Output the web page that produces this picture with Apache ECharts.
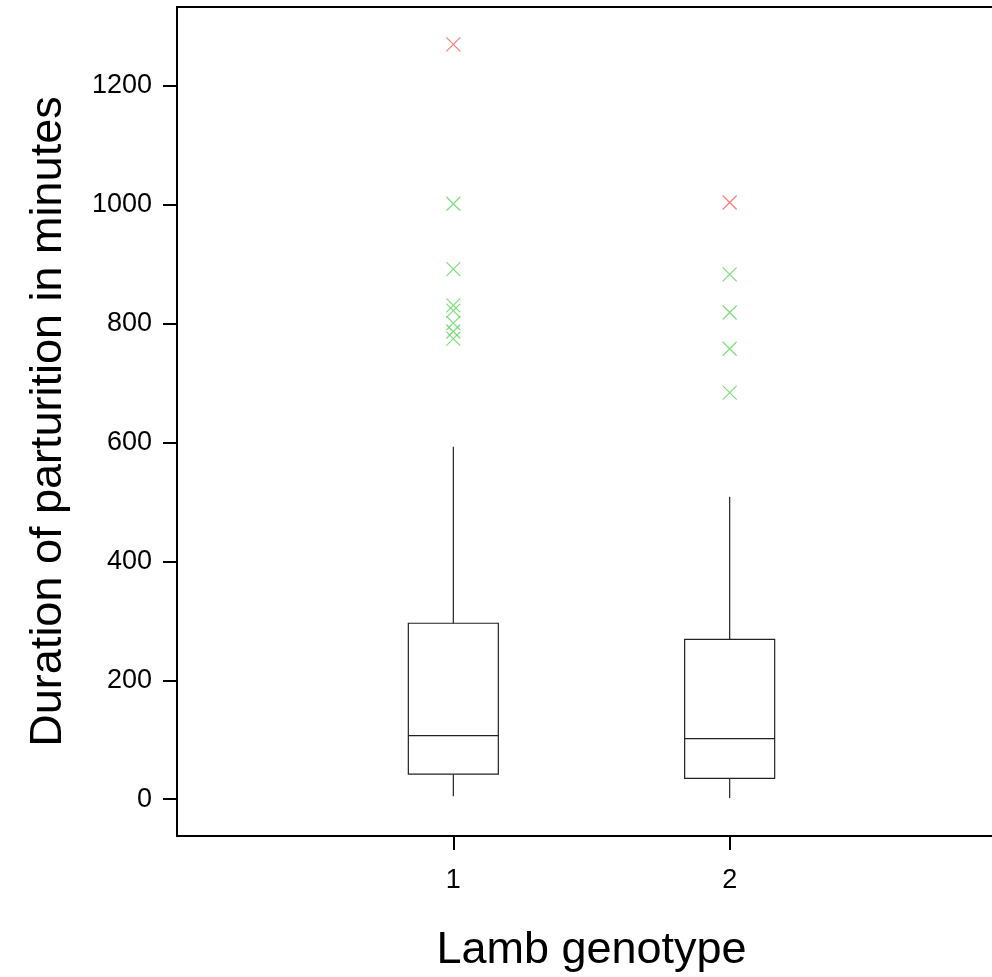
<!DOCTYPE html>
<html>
<head>
<meta charset="utf-8">
<script src="https://cdn.jsdelivr.net/npm/echarts@6/dist/echarts.min.js"></script>
<style>
html,body{margin:0;padding:0;background:#fff;}
#chart{width:992px;height:977px;}
</style>
</head>
<body>
<div id="chart"></div>
<script>
// Categories (x positions 0..3, only 1 and 2 are labelled)
var categories = ['0', '1', '2', '3'];
var shownLabels = ['1', '2'];
// Box statistics: [categoryIndex, min, Q1, median, Q3, max]
var boxStats = [
  [1, 5, 42, 107, 296, 593],
  [2, 2, 35, 102, 269, 509]
];
// Extreme outliers (red)
var extremeOutliers = [[1, 1270], [2, 1004]];
// Mild outliers (green)
var mildOutliers = [
  [1, 1002], [1, 892], [1, 831], [1, 822], [1, 801], [1, 787], [1, 775],
  [2, 883], [2, 819], [2, 758], [2, 684]
];
var yTicks = [0, 200, 400, 600, 800, 1000, 1200];

var FONT = "'Liberation Sans', Arial, sans-serif";
var crossPath = 'path://M0,0L10,10M10,0L0,10';

var chart = echarts.init(document.getElementById('chart'), null, {renderer: 'canvas'});
chart.setOption({
  animation: false,
  backgroundColor: '#fff',
  grid: {
    left: 177, top: 7, width: 829, height: 829,
    outerBoundsMode: 'none',
    containLabel: false,
    show: true, borderColor: '#000', borderWidth: 2, backgroundColor: 'transparent'
  },
  xAxis: {
    type: 'category',
    data: categories,
    boundaryGap: false,
    name: 'Lamb genotype',
    nameLocation: 'middle',
    nameGap: 92,
    nameTextStyle: {fontFamily: FONT, fontSize: 45, color: '#000'},
    axisLine: {show: true, onZero: false, lineStyle: {color: '#000', width: 2}},
    axisTick: {
      show: true, length: 14, inside: false,
      interval: function (i) { return shownLabels.indexOf(categories[i]) >= 0; },
      lineStyle: {color: '#000', width: 2}
    },
    axisLabel: {
      show: true, margin: 31, fontFamily: FONT, fontSize: 27, color: '#000',
      interval: 0,
      formatter: function (v) { return shownLabels.indexOf(v) >= 0 ? v : ''; }
    },
    splitLine: {show: false}
  },
  yAxis: {
    type: 'value',
    min: -62,
    max: 1333,
    name: 'Duration of parturition in minutes',
    nameLocation: 'middle',
    nameGap: 106,
    nameRotate: 90,
    nameTextStyle: {fontFamily: FONT, fontSize: 45, color: '#000'},
    axisLine: {show: true, onZero: false, lineStyle: {color: '#000', width: 2}},
    axisTick: {show: true, length: 14, inside: false, customValues: yTicks, lineStyle: {color: '#000', width: 2}},
    axisLabel: {
      show: true, margin: 25, fontFamily: FONT, fontSize: 27, color: '#000', customValues: yTicks,
      formatter: function (v) { return String(v); }
    },
    splitLine: {show: false}
  },
  series: [
    {
      type: 'custom',
      data: boxStats,
      encode: {x: 0, y: [1, 2, 3, 4, 5]},
      renderItem: function (params, api) {
        var x = api.value(0);
        var pMin = api.coord([x, api.value(1)]);
        var pQ1 = api.coord([x, api.value(2)]);
        var pMed = api.coord([x, api.value(3)]);
        var pQ3 = api.coord([x, api.value(4)]);
        var pMax = api.coord([x, api.value(5)]);
        var half = 45;
        var st = {stroke: '#222', lineWidth: 1.2, fill: null};
        return {
          type: 'group',
          children: [
            {type: 'rect', shape: {x: pQ3[0] - half, y: pQ3[1], width: half * 2, height: pQ1[1] - pQ3[1]}, style: {stroke: '#222', lineWidth: 1.2, fill: 'transparent'}},
            {type: 'line', shape: {x1: pMed[0] - half, y1: pMed[1], x2: pMed[0] + half, y2: pMed[1]}, style: st},
            {type: 'line', shape: {x1: pQ3[0], y1: pQ3[1], x2: pMax[0], y2: pMax[1]}, style: st},
            {type: 'line', shape: {x1: pQ1[0], y1: pQ1[1], x2: pMin[0], y2: pMin[1]}, style: st}
          ]
        };
      },
      z: 2
    },
    {
      type: 'scatter',
      data: mildOutliers,
      symbol: crossPath,
      symbolSize: 14,
      itemStyle: {color: 'none', borderColor: '#5cd65c', borderWidth: 1.2},
      z: 3
    },
    {
      type: 'scatter',
      data: extremeOutliers,
      symbol: crossPath,
      symbolSize: 14,
      itemStyle: {color: 'none', borderColor: '#ff5a5a', borderWidth: 1.2},
      z: 3
    }
  ]
});
</script>
</body>
</html>
